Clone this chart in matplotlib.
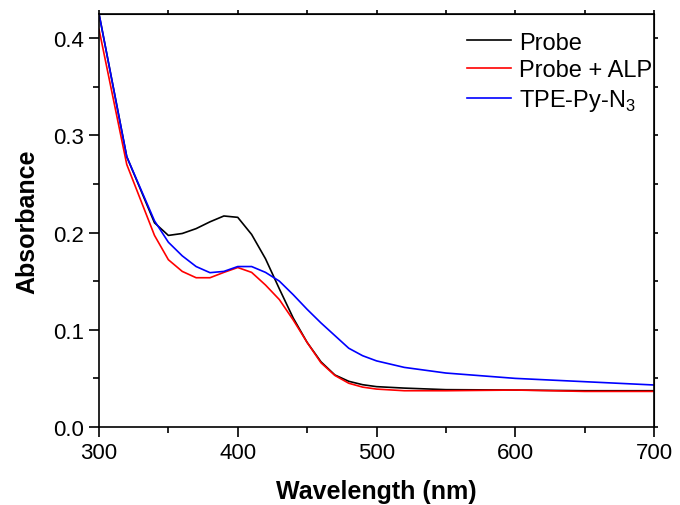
import matplotlib.pyplot as plt

plt.rcParams['font.family'] = ['Liberation Sans', 'DejaVu Sans']
plt.rcParams['mathtext.fontset'] = 'custom'
plt.rcParams['mathtext.rm'] = 'Liberation Sans'

wavelength = [300, 320, 340, 350, 360, 370, 380, 390, 400, 410, 420, 430, 440,
              450, 460, 470, 480, 490, 500, 520, 550, 600, 650, 700]
probe = [0.425, 0.278, 0.210, 0.197, 0.199, 0.204, 0.211, 0.217, 0.2156, 0.198,
         0.173, 0.142, 0.112, 0.087, 0.067, 0.0535, 0.047, 0.0435, 0.0415,
         0.040, 0.0384, 0.038, 0.0373, 0.0373]
probe_alp = [0.409, 0.270, 0.197, 0.172, 0.160, 0.1535, 0.1535, 0.159, 0.164,
             0.159, 0.146, 0.131, 0.110, 0.087, 0.066, 0.053, 0.045, 0.041,
             0.039, 0.0373, 0.0373, 0.038, 0.0366, 0.0366]
tpe = [0.425, 0.278, 0.212, 0.190, 0.176, 0.165, 0.1587, 0.160, 0.165, 0.165,
       0.159, 0.150, 0.136, 0.121, 0.107, 0.094, 0.081, 0.0733, 0.068,
       0.0613, 0.0555, 0.050, 0.0466, 0.0432]

fig = plt.figure(figsize=(6.8, 5.06), dpi=100)
ax = fig.add_axes([99 / 680, 1 - 428 / 506, 555 / 680, 413 / 506])

ax.plot(wavelength, probe, color='black', lw=1.2, label='Probe')
ax.plot(wavelength, probe_alp, color='red', lw=1.2, label='Probe + ALP')
ax.plot(wavelength, tpe, color='blue', lw=1.2, label='TPE-Py-N$_3$')

ax.set_xlim(300, 700)
ax.set_ylim(0, 0.4247)
xmaj = [300, 400, 500, 600, 700]
xmin = [350, 450, 550, 650]
ymaj = [0.0, 0.1, 0.2, 0.3, 0.4]
ymin = [0.05, 0.15, 0.25, 0.35]
ax.set_xticks(xmaj)
ax.set_xticks(xmin, minor=True)
ax.set_yticks(ymaj)
ax.set_yticks(ymin, minor=True)

ax.tick_params(which='major', direction='out', length=7, width=1.2,
               labelsize=16)
ax.tick_params(which='minor', direction='out', length=4, width=1.2)
for s in ax.spines.values():
    s.set_linewidth(1.2)

# small ticks on top and right, no labels
top = ax.secondary_xaxis('top')
top.set_xticks(xmaj + xmin)
top.tick_params(direction='out', length=3, width=1.2, labeltop=False)
right = ax.secondary_yaxis('right')
right.set_yticks(ymaj + ymin)
right.tick_params(direction='out', length=3, width=1.2, labelright=False)

ax.set_xlabel('Wavelength (nm)', fontsize=18, fontweight='bold', labelpad=12)
ax.set_ylabel('Absorbance', fontsize=18, fontweight='bold', labelpad=10)

ax.legend(loc='upper right', bbox_to_anchor=(1.005, 0.969), frameon=False,
          fontsize=17, handlelength=1.86, handletextpad=0.34,
          labelspacing=0.25, borderaxespad=0, borderpad=0.2)

fig.savefig('out.png', dpi=100)
